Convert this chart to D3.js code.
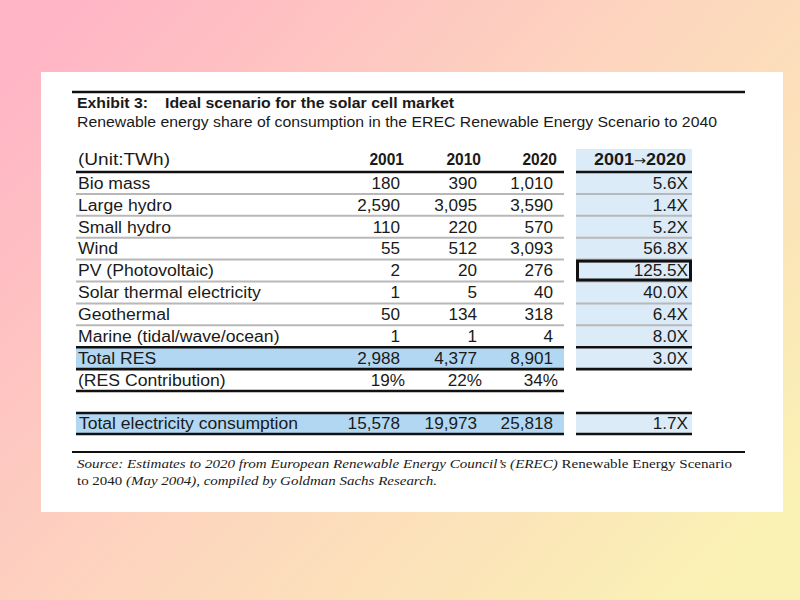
<!DOCTYPE html>
<html><head><meta charset="utf-8">
<script src="https://cdn.jsdelivr.net/npm/d3@7"></script>
<style>html,body{margin:0;padding:0;overflow:hidden}</style>
</head><body>
<svg id="c" width="800" height="600"></svg>
<script>
// ---------- data ----------
const title = "Ideal scenario for the solar cell market";
const exhibit = "Exhibit 3:";
const subtitle = "Renewable energy share of consumption in the EREC Renewable Energy Scenario to 2040";
const unitLabel = "(Unit:TWh)";
const years = ["2001", "2010", "2020"];
const growthFrom = "2001", growthTo = "2020";
const sources = ["Bio mass", "Large hydro", "Small hydro", "Wind", "PV (Photovoltaic)",
  "Solar thermal electricity", "Geothermal", "Marine (tidal/wave/ocean)"];
const v2001 = [180, 2590, 110, 55, 2, 1, 50, 1];
const v2010 = [390, 3095, 220, 512, 20, 5, 134, 1];
const v2020 = [1010, 3590, 570, 3093, 276, 40, 318, 4];
const growth = [5.6, 1.4, 5.2, 56.8, 125.5, 40.0, 6.4, 8.0];
const totalLabel = "Total RES";
const totalRES = [2988, 4377, 8901];
const totalGrowth = 3.0;
const shareLabel = "(RES Contribution)";
const resShare = [19, 22, 34];
const consLabel = "Total electricity consumption";
const consumption = [15578, 19973, 25818];
const consGrowth = 1.7;
const highlightSource = "PV (Photovoltaic)";

// ---------- drawing ----------
const svg = d3.select("#c");
const defs = svg.append("defs");
const grad = defs.append("linearGradient").attr("id", "bg")
  .attr("x1", "0").attr("y1", "0.15").attr("x2", "1").attr("y2", "0.85");
grad.append("stop").attr("offset", "0").attr("stop-color", "#FFB5C5");
grad.append("stop").attr("offset", "0.5").attr("stop-color", "#FDD6BE");
grad.append("stop").attr("offset", "1").attr("stop-color", "#FAF2B4");
svg.append("rect").attr("width", 800).attr("height", 600).attr("fill", "url(#bg)");
svg.append("rect").attr("x", 41).attr("y", 72).attr("width", 742).attr("height", 440).attr("fill", "#fff");

const SANS = "'Liberation Sans', Arial, sans-serif";
const SERIF = "'Liberation Serif', 'Times New Roman', serif";

function txt(g, x, y, s, o = {}) {
  const t = g.append("text").attr("x", x).attr("y", y)
    .attr("font-family", o.family || SANS)
    .attr("font-size", o.size || 16)
    .attr("font-weight", o.bold ? "bold" : "normal")
    .attr("text-anchor", o.anchor || "start")
    .attr("fill", o.fill || "#1a1a1a");
  if (o.parts) {
    o.parts.forEach(p => {
      const ts = t.append("tspan").attr("font-style", p.italic ? "italic" : "normal").text(p.t);
      if (p.family) ts.attr("font-family", p.family).attr("font-weight", "normal");
      if (p.size) ts.attr("font-size", p.size);
    });
  } else t.text(s);
  const w = t.node().getComputedTextLength();
  const target = o.width || w * (o.sx || 1.1);
  t.attr("textLength", target).attr("lengthAdjust", "spacingAndGlyphs");
  return t;
}

const g = svg.append("g");
const fmtN = d3.format(",");
const fmtG = d => d3.format(".1f")(d) + "X";

// layout scales
const tableL = 76, tableR = 564, ratL = 576, ratR = 692;
const rowKeys = [...sources, totalLabel, shareLabel];
const y = d3.scaleBand().domain(rowKeys).range([172, 391]).padding(0);
const consY = d3.scaleBand().domain([consLabel]).range([413, 434]);
const colX = d3.scaleOrdinal().domain(years).range([400, 477, 553]);
const ratX = 688;

// backgrounds
g.append("rect").attr("x", ratL).attr("y", 149).attr("width", ratR - ratL)
  .attr("height", y(totalLabel) + y.bandwidth() - 149).attr("fill", "#DCEBF8");
g.append("rect").attr("x", ratL).attr("y", consY(consLabel)).attr("width", ratR - ratL)
  .attr("height", consY.bandwidth()).attr("fill", "#DCEBF8");
g.append("rect").attr("x", tableL).attr("y", y(totalLabel)).attr("width", tableR - tableL)
  .attr("height", y.bandwidth()).attr("fill", "#B2D7F3");
g.append("rect").attr("x", tableL).attr("y", consY(consLabel)).attr("width", tableR - tableL)
  .attr("height", consY.bandwidth()).attr("fill", "#B2D7F3");

// gray separators
sources.slice(1).forEach(s => {
  [[tableL, tableR], [ratL, ratR]].forEach(([a, b]) =>
    g.append("line").attr("x1", a).attr("x2", b).attr("y1", y(s)).attr("y2", y(s))
      .attr("stroke", "#B8B8B8").attr("stroke-width", 2));
});
function thick(yy, both) {
  g.append("line").attr("x1", tableL).attr("x2", tableR).attr("y1", yy).attr("y2", yy)
    .attr("stroke", "#111").attr("stroke-width", 2.6);
  if (both) g.append("line").attr("x1", ratL).attr("x2", ratR).attr("y1", yy).attr("y2", yy)
    .attr("stroke", "#111").attr("stroke-width", 2.6);
}
thick(172, true);
thick(y(totalLabel), true);
thick(y(shareLabel), true);
thick(y(shareLabel) + y.bandwidth(), false);
thick(consY(consLabel), true);
thick(consY(consLabel) + consY.bandwidth(), true);

// top rule and source rule
g.append("line").attr("x1", 72).attr("x2", 745).attr("y1", 92).attr("y2", 92).attr("stroke", "#111").attr("stroke-width", 2.4);
g.append("line").attr("x1", 72).attr("x2", 745).attr("y1", 452).attr("y2", 452).attr("stroke", "#111").attr("stroke-width", 2);

// titles
txt(g, 77, 108, exhibit, { bold: true, size: 14, width: 71 });
txt(g, 165, 108, title, { bold: true, size: 14, width: 289 });
txt(g, 77, 127, subtitle, { size: 14, width: 640 });

// header
txt(g, 78, 165, unitLabel, { size: 16, width: 92 });
years.forEach(yr => txt(g, colX(yr) + 4, 165, yr, { bold: true, size: 16, anchor: "end", sx: 0.97 }));
txt(g, 686, 165, null, { bold: true, size: 16, anchor: "end", width: 92, parts: [
  { t: growthFrom }, { t: "\u2192", family: "'DejaVu Sans', sans-serif", size: 13 }, { t: growthTo }] });

const base = k => y(k) + y.bandwidth() / 2 + 5.8;
const cols = [v2001, v2010, v2020];

sources.forEach((s, i) => {
  txt(g, 78, base(s), s);
  years.forEach((yr, j) => txt(g, colX(yr), base(s), fmtN(cols[j][i]), { anchor: "end", sx: 1.07 }));
  txt(g, ratX, base(s), fmtG(growth[i]), { anchor: "end", sx: 1.07 });
});
// total RES
txt(g, 78, base(totalLabel), totalLabel);
years.forEach((yr, j) => txt(g, colX(yr), base(totalLabel), fmtN(totalRES[j]), { anchor: "end", sx: 1.07 }));
txt(g, ratX, base(totalLabel), fmtG(totalGrowth), { anchor: "end", sx: 1.07 });
// share
txt(g, 78, base(shareLabel), shareLabel);
years.forEach((yr, j) => txt(g, colX(yr) + 5, base(shareLabel), resShare[j] + "%", { anchor: "end", sx: 1.07 }));
// consumption
const cb = consY(consLabel) + consY.bandwidth() / 2 + 5.8;
txt(g, 79, cb, consLabel, { width: 219 });
years.forEach((yr, j) => txt(g, colX(yr), cb, fmtN(consumption[j]), { anchor: "end", sx: 1.07 }));
txt(g, ratX, cb, fmtG(consGrowth), { anchor: "end", sx: 1.07 });

// highlight box
g.append("rect").attr("x", ratL + 1.5).attr("y", y(highlightSource) + 1.5)
  .attr("width", ratR - ratL - 3).attr("height", y.bandwidth() - 3)
  .attr("fill", "none").attr("stroke", "#111").attr("stroke-width", 3);

// source note
txt(g, 77, 468, null, { family: SERIF, size: 12.5, width: 655, parts: [
  { t: "Source: Estimates to 2020 from European Renewable Energy Council\u2019s (EREC) ", italic: true },
  { t: "Renewable Energy Scenario", italic: false }] });
txt(g, 77, 485, null, { family: SERIF, size: 12.5, width: 360, parts: [
  { t: "to 2040 ", italic: false },
  { t: "(May 2004), compiled by Goldman Sachs Research.", italic: true }] });
</script>
</body></html>
